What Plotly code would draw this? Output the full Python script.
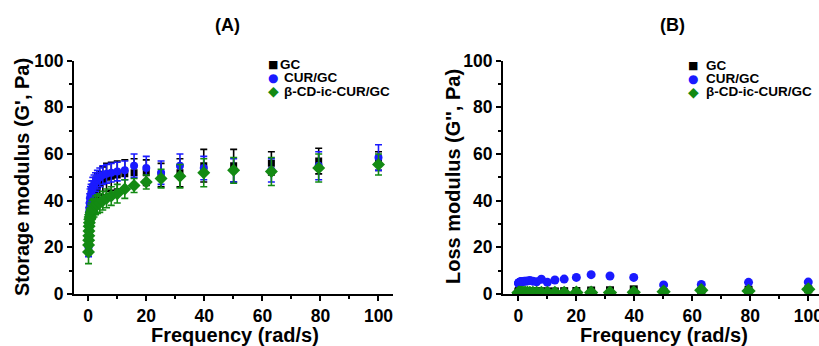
import plotly.graph_objects as go

# ---------------- data ----------------
freq = [0.1, 0.126, 0.158, 0.2, 0.251, 0.316, 0.398, 0.501, 0.631, 0.794,
        1.0, 1.26, 1.58, 2.0, 2.51, 3.16, 3.98, 5.01, 6.31, 7.94,
        10.0, 12.6, 15.8, 20.0, 25.1, 31.6, 39.8, 50.1, 63.1, 79.4, 100.0]

series_names = ["GC", "CUR/GC", "β-CD-ic-CUR/GC"]

# Storage modulus G' (Pa)
gp_gc = [21, 23, 25, 27, 29, 31, 33, 34.5, 36, 37.5,
         39, 40.5, 42, 43.5, 45, 46.5, 47.5, 48.5, 50, 50.5,
         51, 51.5, 52, 52, 51, 52, 55, 55, 56, 57, 57]
gp_gc_err = [4, 4, 4, 4, 4, 4, 4, 4, 5, 5,
             5, 5, 5, 5, 5, 5, 5, 6, 6, 6,
             6, 6, 6, 5.5, 5, 6, 7, 7, 5, 5.5, 4]
gp_cur = [20, 24, 27, 30, 33, 35, 37, 39, 41, 42,
          43, 44.5, 46, 47, 48, 49, 50, 51, 51.5, 52,
          52.5, 53, 55, 54, 52, 55, 54, 53, 53, 55, 58.5]
gp_cur_err = [4, 4, 4, 4, 4, 4, 4, 4, 4, 4,
              4, 4, 4, 4, 4, 4, 4, 4, 4, 4,
              4, 4, 5, 5, 5, 5, 5, 5, 5, 6, 5.5]
gp_cd = [18, 21, 23, 25, 27, 29, 30.5, 32, 33, 34,
         35, 36, 36.5, 37, 38, 38.5, 39, 40, 41, 42,
         43, 45, 46.5, 48, 49.5, 50.5, 52, 53, 52.5, 54, 55.5]
gp_cd_err = [5, 4, 4, 4, 4, 4, 4, 4, 4, 4,
             4, 4, 4, 4, 4, 4, 4, 4, 4, 4,
             4, 4, 3, 3, 4, 5, 6, 5.5, 6, 6, 4.5]

# Loss modulus G'' (Pa)
gpp_gc = [1.0, 1.0, 1.0, 1.0, 1.0, 1.0, 1.0, 1.0, 1.0, 1.0,
          1.0, 1.0, 1.0, 1.0, 1.0, 1.0, 1.1, 1.1, 1.1, 1.1,
          1.1, 1.1, 1.2, 1.3, 1.5, 1.6, 2.0, 0.8, 1.3, 1.8, 2.0]
gpp_gc_err = [0.4] * 24 + [0.6, 0.6, 0.7, 0.5, 0.6, 0.8, 0.8]
gpp_cur = [4.5, 4.6, 4.7, 4.8, 4.8, 4.9, 5.0, 5.0, 5.1, 5.2,
           5.3, 5.3, 5.4, 5.5, 5.5, 5.6, 5.8, 5.5, 5.2, 6.3,
           5.0, 6.0, 6.4, 7.1, 8.3, 7.7, 7.1, 3.9, 4.1, 5.0, 5.1]
gpp_cur_err = [0.3] * 31
gpp_cd = [0.5, 0.5, 0.5, 0.5, 0.5, 0.5, 0.5, 0.5, 0.5, 0.5,
          0.5, 0.5, 0.5, 0.5, 0.5, 0.5, 0.5, 0.5, 0.5, 0.5,
          0.5, 0.5, 0.5, 0.6, 0.6, 0.6, 0.7, 1.0, 1.6, 1.3, 2.0]
gpp_cd_err = [0.4] * 27 + [1.0, 0.8, 0.8, 1.2]

panel_titles = ["(A)", "(B)"]
y_titles = ["Storage modulus (G', Pa)", "Loss modulus (G'', Pa)"]
x_title = "Frequency (rad/s)"
x_ticks = [0, 20, 40, 60, 80, 100]
y_ticks = [0, 20, 40, 60, 80, 100]

# ---------------- style ----------------
W, H = 819, 346
colors = ["#000000", "#1a1aff", "#138a13"]
symbols = ["square", "circle", "diamond"]
msizes = [7, 8, 10]
FONT = "Arial, Liberation Sans, sans-serif"


def px(x):
    return x / W


def py(y):
    return 1 - y / H


fig = go.Figure()

panelA = [(gp_gc, gp_gc_err), (gp_cur, gp_cur_err), (gp_cd, gp_cd_err)]
panelB = [(gpp_gc, gpp_gc_err), (gpp_cur, gpp_cur_err), (gpp_cd, gpp_cd_err)]

for (xa, ya), data in ((("x", "y"), panelA), (("x2", "y2"), panelB)):
    for i, (vals, errs) in enumerate(data):
        fig.add_trace(go.Scatter(
            x=freq, y=vals, mode="markers", name=series_names[i],
            xaxis=xa, yaxis=ya, showlegend=False,
            marker=dict(symbol=symbols[i], size=msizes[i] + (1 if xa == "x2" else 0),
                        color=colors[i], line=dict(width=0)),
            error_y=dict(type="data", array=errs, visible=True,
                         color=colors[i], thickness=1.6, width=3.5),
        ))

axis_common = dict(
    showline=True, linewidth=2, linecolor="black", mirror=False,
    ticks="outside", ticklen=5, tickwidth=2, tickcolor="black",
    showgrid=False, zeroline=False, automargin=False,
    ticklabeloverflow="allow",
    tickfont=dict(family=FONT, size=17.5, color="black", weight="bold"),
    minor=dict(ticks="outside", ticklen=3, tickwidth=1.5, tickcolor="black", dtick=10),
)

ydom = [py(294), py(60.7)]
fig.update_layout(
    width=W, height=H,
    margin=dict(l=0, r=0, t=0, b=0),
    paper_bgcolor="white", plot_bgcolor="white",
    xaxis=dict(axis_common, domain=[px(74), px(393)], range=[-4.9, 105.0],
               tickvals=x_ticks, anchor="y"),
    yaxis=dict(axis_common, domain=ydom, range=[0, 100], tickvals=y_ticks,
               anchor="x"),
    xaxis2=dict(axis_common, domain=[px(503), 1.0], range=[-5.3, 103.7],
                tickvals=x_ticks, anchor="y2"),
    yaxis2=dict(axis_common, domain=ydom, range=[0, 100], tickvals=y_ticks,
                anchor="x2"),
    showlegend=False,
)

ann = []
# panel titles
for t, cx in zip(panel_titles, [227, 672]):
    ann.append(dict(text=t, x=px(cx), y=py(25), xref="paper", yref="paper",
                    showarrow=False, xanchor="center", yanchor="middle",
                    font=dict(family=FONT, size=18, color="black", weight="bold")))
# y titles
for t, cx in zip(y_titles, [22, 453]):
    ann.append(dict(text=t, x=px(cx), y=py(177), xref="paper", yref="paper",
                    showarrow=False, xanchor="center", yanchor="middle", textangle=-90,
                    font=dict(family=FONT, size=20, color="black", weight="bold")))
# x titles
for cx in [235, 664]:
    ann.append(dict(text=x_title, x=px(cx), y=py(335), xref="paper", yref="paper",
                    showarrow=False, xanchor="center", yanchor="middle",
                    font=dict(family=FONT, size=20, color="black", weight="bold")))

# legends (glyph + label)
glyphs = ["■", "●", "◆"]
gsizes = [11, 12, 14]
legA = dict(mx=273, tx=[278, 282, 282], ys=[64, 77.5, 91])
legB = dict(mx=693, tx=[704, 704, 704], ys=[65.5, 78.5, 91.5])
for leg in (legA, legB):
    for i in range(3):
        ann.append(dict(text=glyphs[i], x=px(leg["mx"]), y=py(leg["ys"][i]),
                        xref="paper", yref="paper", showarrow=False,
                        xanchor="center", yanchor="middle",
                        font=dict(family="DejaVu Sans", size=gsizes[i], color=colors[i])))
        ann.append(dict(text=series_names[i], x=px(leg["tx"][i]), y=py(leg["ys"][i]),
                        xref="paper", yref="paper", showarrow=False,
                        xanchor="left", yanchor="middle",
                        font=dict(family=FONT, size=13.5, color="black", weight="bold")))

fig.update_layout(annotations=ann)

fig.write_html("out.html",
               config={"displayModeBar": False},
               post_script="document.body.style.margin='0px';document.body.style.overflow='hidden';")
